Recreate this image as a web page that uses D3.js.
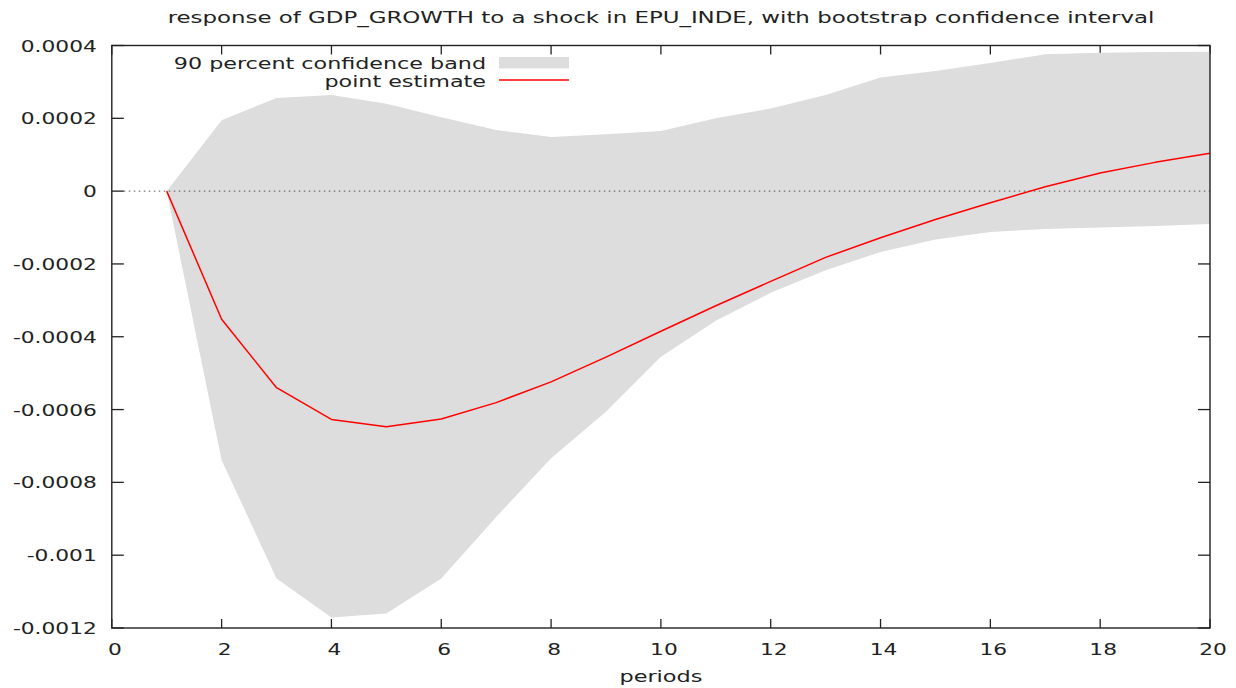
<!DOCTYPE html>
<html>
<head>
<meta charset="utf-8">
<script src="https://cdn.jsdelivr.net/npm/d3@7"></script>
<style>
  html, body { margin: 0; padding: 0; background: #fff; }
  svg { display: block; }
  text { font-family: "DejaVu Sans", Verdana, sans-serif; font-size: 16px; fill: #222; }
</style>
</head>
<body>
<svg id="chart" width="1236" height="688"></svg>
<script>
// Impulse response horizon
const periods = d3.range(1, 21);

// Point estimate of the response
const pointEstimate = [0, -0.000352, -0.000540, -0.000627, -0.000647, -0.000626, -0.000581,
  -0.000524, -0.000456, -0.000385, -0.000315, -0.000248, -0.000182, -0.000128,
  -0.000078, -0.000032, 0.000012, 0.000050, 0.000079, 0.000104];

// 90 percent bootstrap band
const bandUpper = [0, 0.000195, 0.000256, 0.000264, 0.000240, 0.000203, 0.000168, 0.000149,
  0.000156, 0.000165, 0.000200, 0.000227, 0.000264, 0.000312, 0.000330, 0.000352,
  0.000376, 0.000380, 0.000382, 0.000383];
const bandLower = [0, -0.000739, -0.001064, -0.001171, -0.001160, -0.001064, -0.000895,
  -0.000734, -0.000606, -0.000455, -0.000356, -0.000279, -0.000217, -0.000167,
  -0.000133, -0.000112, -0.000104, -0.000100, -0.000096, -0.000090];

const xTicks = [0, 2, 4, 6, 8, 10, 12, 14, 16, 18, 20];
const yTicks = [0.0004, 0.0002, 0, -0.0002, -0.0004, -0.0006, -0.0008, -0.001, -0.0012];
const yTickLabels = ["0.0004", "0.0002", "0", "-0.0002", "-0.0004", "-0.0006", "-0.0008", "-0.001", "-0.0012"];

const titleText = "response of GDP_GROWTH to a shock in EPU_INDE, with bootstrap confidence interval";
const xLabel = "periods";
const legendBand = "90 percent confidence band";
const legendLine = "point estimate";

const svg = d3.select("#chart");
const plotL = 111.8, plotR = 1210, plotT = 45.5, plotB = 628;
const sx = 1.36; // horizontal glyph stretch

const x = d3.scaleLinear().domain([0, 20]).range([plotL, plotR]);
const y = d3.scaleLinear().domain([-0.0012, 0.0004]).range([plotB, plotT]);

function label(g, txt, px, py, anchor, stretch = sx) {
  return g.append("text")
    .attr("transform", `translate(${px},${py}) scale(${stretch},1)`)
    .attr("text-anchor", anchor)
    .text(txt);
}

// ticks (inward, mirrored) drawn under the band
const tickG = svg.append("g").attr("stroke", "#222").attr("stroke-width", 1.3);
xTicks.forEach(t => {
  tickG.append("line").attr("x1", x(t)).attr("x2", x(t)).attr("y1", plotB).attr("y2", plotB - 9);
  tickG.append("line").attr("x1", x(t)).attr("x2", x(t)).attr("y1", plotT).attr("y2", plotT + 9);
});
yTicks.forEach(t => {
  tickG.append("line").attr("x1", plotL).attr("x2", plotL + 12).attr("y1", y(t)).attr("y2", y(t));
  tickG.append("line").attr("x1", plotR).attr("x2", plotR - 12).attr("y1", y(t)).attr("y2", y(t));
});

// confidence band
const area = d3.area()
  .x((d, i) => x(periods[i]))
  .y0((d, i) => y(bandLower[i]))
  .y1((d, i) => y(bandUpper[i]));
svg.append("path").datum(periods).attr("d", area).attr("fill", "#dddddd");

// zero reference line
svg.append("line")
  .attr("x1", plotL + 12).attr("x2", plotR)
  .attr("y1", y(0)).attr("y2", y(0))
  .attr("stroke", "#555").attr("stroke-width", 1)
  .attr("stroke-dasharray", "1.5,3.5");

// point estimate
const line = d3.line().x((d, i) => x(periods[i])).y((d, i) => y(pointEstimate[i]));
svg.append("path").datum(periods).attr("d", line)
  .attr("fill", "none").attr("stroke", "#ff0000").attr("stroke-width", 1.5)
  .attr("stroke-linejoin", "round");

// frame
svg.append("rect")
  .attr("x", plotL).attr("y", plotT).attr("width", plotR - plotL).attr("height", plotB - plotT)
  .attr("fill", "none").attr("stroke", "#222").attr("stroke-width", 1.4);

// tick labels
const labG = svg.append("g");
xTicks.forEach(t => label(labG, String(t), x(t) + 3, plotB + 27, "middle"));
yTicks.forEach((t, i) => label(labG, yTickLabels[i], plotL - 15, y(t) + 6, "end"));

// title and axis label
label(svg, titleText, 661, 23, "middle", 1.43);
label(svg, xLabel, (plotL + plotR) / 2, 682, "middle", 1.4);

// legend
label(svg, legendBand, 486, 69, "end", 1.39);
svg.append("rect").attr("x", 499).attr("y", 57).attr("width", 70).attr("height", 11.5).attr("fill", "#dddddd");
label(svg, legendLine, 486, 87, "end", 1.39);
svg.append("line").attr("x1", 499).attr("x2", 569).attr("y1", 80).attr("y2", 80)
  .attr("stroke", "#ff0000").attr("stroke-width", 1.5);
</script>
</body>
</html>
